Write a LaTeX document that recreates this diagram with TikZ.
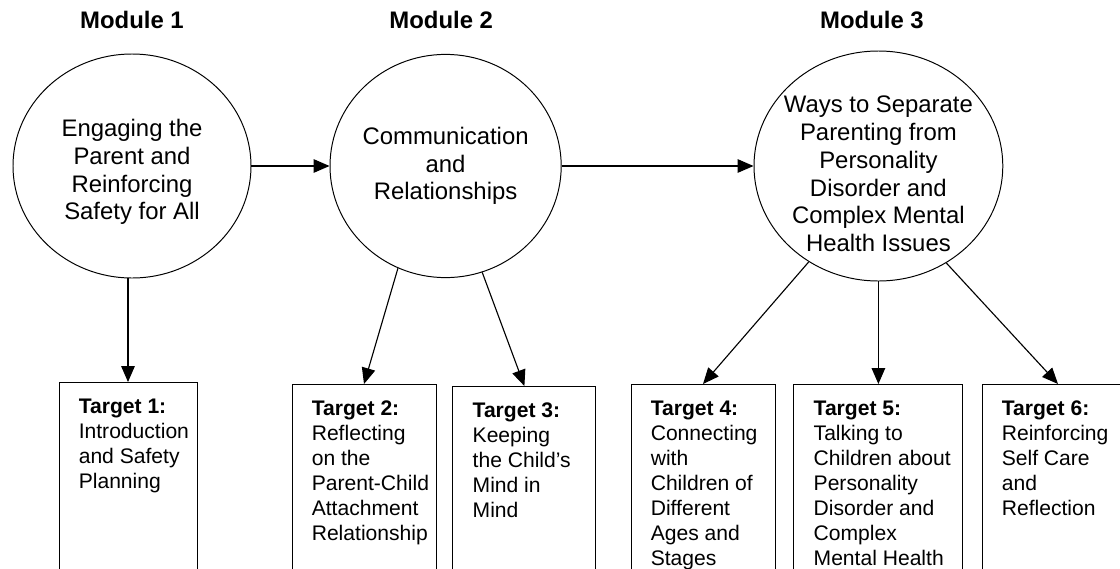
\documentclass[tikz,border=0pt]{standalone}
\usepackage{fontspec}
\setmainfont{Liberation Sans}
\usepackage{tikz}
\usetikzlibrary{arrows.meta,shapes.geometric}

\begin{document}
\begin{tikzpicture}[
		modlabel/.style={inner sep=0, font=\fontsize{17}{20}\selectfont\bfseries},
		circtext/.style={align=center, inner sep=0, font=\fontsize{17}{19.7}\selectfont},
		module/.style={draw, ellipse, line width=0.7pt, inner sep=0},
		target/.style={draw, rectangle, line width=0.7pt, anchor=north, minimum height=5.6cm, inner sep=0},
		targettext/.style={align=left, inner sep=0, anchor=north west, font=\fontsize{15}{17.8}\selectfont},
		flow/.style={line width=0.8pt, -{Triangle[length=0.4cm, width=0.34cm]}}
	]
			%%%%% START %%%%%
			
			\useasboundingbox (0, 0) rectangle (28, -14.2);
			\clip (0, 0) rectangle (28, -14.2);
			
			\node[modlabel] (m1) at (3.3, -0.5) {Module 1};
			\node[modlabel] (m2) at (11.03, -0.5) {Module 2};
			\node[modlabel] (m3) at (21.8, -0.5) {Module 3};
			
			\node[module, minimum width=5.95cm, minimum height=5.6cm,
				label={[circtext, yshift=-0.15cm]center:{Engaging the\\Parent and\\Reinforcing\\Safety for All}}] (c1) at (3.3, -4.15) {};
			\node[module, minimum width=5.78cm, minimum height=5.58cm,
				label={[circtext]center:{Communication\\and\\Relationships}}] (c2) at (11.14, -4.15) {};
			\node[module, minimum width=6.22cm, minimum height=5.75cm,
				label={[circtext, yshift=-0.2cm]center:{Ways to Separate\\Parenting from\\Personality\\Disorder and\\Complex Mental\\Health Issues}}] (c3) at (21.96, -4.15) {};
			
			\node[target, minimum width=3.45cm] (t1) at (3.2, -9.55) {};
			\node[target, minimum width=3.6cm] (t2) at (9.1, -9.6) {};
			\node[target, minimum width=3.575cm] (t3) at (13.11, -9.65) {};
			\node[target, minimum width=3.6cm] (t4) at (17.575, -9.6) {};
			\node[target, minimum width=4.225cm] (t5) at (21.96, -9.6) {};
			\node[target, minimum width=3.8cm] (t6) at (26.45, -9.6) {};
			
			\node[targettext] (t1txt) at ([shift={(0.5, -0.42)}]t1.north west) {\textbf{Target 1:}\\Introduction\\and Safety\\Planning};
			\node[targettext] (t2txt) at ([shift={(0.5, -0.42)}]t2.north west) {\textbf{Target 2:}\\Reflecting\\on the\\Parent-Child\\Attachment\\Relationship};
			\node[targettext] (t3txt) at ([shift={(0.5, -0.42)}]t3.north west) {\textbf{Target 3:}\\Keeping\\the Child’s\\Mind in\\Mind};
			\node[targettext] (t4txt) at ([shift={(0.5, -0.42)}]t4.north west) {\textbf{Target 4:}\\Connecting\\with\\Children of\\Different\\Ages and\\Stages};
			\node[targettext] (t5txt) at ([shift={(0.5, -0.42)}]t5.north west) {\textbf{Target 5:}\\Talking to\\Children about\\Personality\\Disorder and\\Complex\\Mental Health};
			\node[targettext] (t6txt) at ([shift={(0.5, -0.42)}]t6.north west) {\textbf{Target 6:}\\Reinforcing\\Self Care\\and\\Reflection};
			
			\draw[flow] (c1.east) -- (c2.west);
			\draw[flow] (c2.east) -- (c3.west);
			
			\draw[flow] (t1.north |- c1.south) -- (t1.north);
			\draw[flow] (c2.245) -- (t2.north);
			\draw[flow] (c2.289) -- (t3.north);
			\draw[flow] (c3.234) -- (t4.north);
			\draw[flow] (c3.south) -- (t5.north);
			\draw[flow] (c3.305) -- (t6.north);
			
			%%%%% END %%%%%
\end{tikzpicture}
\end{document}
